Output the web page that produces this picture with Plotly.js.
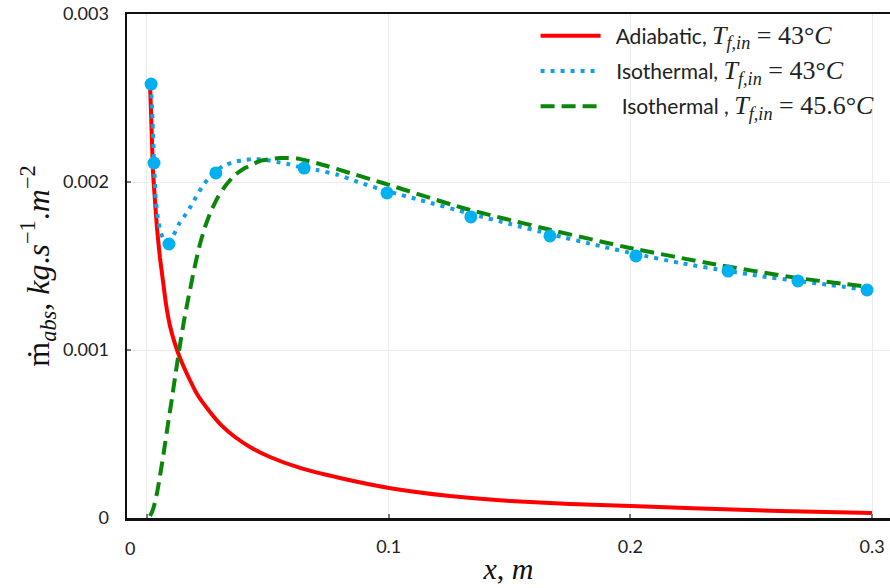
<!DOCTYPE html>
<html>
<head>
<meta charset="utf-8">
<script src="https://cdn.plot.ly/plotly-3.0.1.min.js"></script>
<style>html,body{margin:0;padding:0;background:#fff;}#chart{width:890px;height:588px;}</style>
</head>
<body>
<div id="chart"></div>
<script>
// Adiabatic, T_f,in = 43°C
const xAdiabatic = [0.00124,0.00165,0.00248,0.00331,0.00414,0.00538,0.00662,0.00786,0.00952,0.01158,0.01365,0.01655,0.02069,0.02607,0.03103,0.03641,0.04262,0.05089,0.0633,0.07985,0.10012,0.12536,0.15019,0.17501,0.20025,0.2288,0.2619,0.29996];
const yAdiabatic = [0.002583,0.002423,0.002065,0.001887,0.001726,0.001548,0.001411,0.001274,0.001143,0.001036,0.000952,0.000857,0.000738,0.000631,0.000548,0.000482,0.000423,0.000363,0.000298,0.000238,0.000179,0.000131,0.000101,0.0000833,0.0000714,0.0000565,0.0000417,0.0000298];

// Isothermal, T_f,in = 43°C (line)
const xIso43 = [0.00165,0.00248,0.0029,0.00372,0.00455,0.00579,0.00703,0.00869,0.01076,0.01324,0.01614,0.0182,0.02027,0.02276,0.02565,0.02855,0.03145,0.036,0.04013,0.04468,0.04923,0.05379,0.05834,0.06496,0.07034,0.07902,0.0873,0.0993,0.11295,0.13405,0.15019,0.16673,0.18742,0.20232,0.22052,0.24038,0.25362,0.26934,0.28258,0.29789];
const yIso43 = [0.002583,0.002304,0.002113,0.001887,0.00178,0.001696,0.001655,0.001649,0.001679,0.00175,0.00181,0.001857,0.001911,0.00197,0.002024,0.002065,0.002095,0.002119,0.002131,0.002137,0.002131,0.002119,0.002107,0.002083,0.002071,0.002042,0.002,0.001946,0.001893,0.00181,0.00175,0.00169,0.001619,0.001571,0.001518,0.00147,0.00144,0.001411,0.001387,0.001357];

// Isothermal, T_f,in = 43°C (points)
const xIso43Pts = [0.0017,0.0029,0.0091,0.0285,0.065,0.0993,0.134,0.1667,0.2023,0.2404,0.2693,0.2979];
const yIso43Pts = [0.002583,0.002113,0.001631,0.002054,0.002083,0.001935,0.001792,0.001679,0.00156,0.00147,0.001411,0.001357];

// Isothermal, T_f,in = 45.6°C
const xIso456 = [0.00124,0.00207,0.0029,0.00414,0.00538,0.00703,0.00869,0.01034,0.012,0.01365,0.01531,0.01696,0.01862,0.02027,0.02193,0.024,0.02648,0.02938,0.03269,0.03641,0.04055,0.04675,0.05503,0.06206,0.07158,0.08523,0.09764,0.13074,0.16549,0.19983,0.23418,0.26893,0.29913];
const yIso456 = [0.0000119,0.0000357,0.0000714,0.000149,0.00025,0.000399,0.00056,0.000714,0.000875,0.00103,0.001173,0.001298,0.001417,0.00153,0.001631,0.001732,0.001827,0.001911,0.001982,0.002042,0.002083,0.002125,0.002143,0.00214,0.002107,0.002048,0.001994,0.001845,0.00172,0.001607,0.001512,0.001429,0.001375];

const xTickVals = [0, 0.1, 0.2, 0.3];
const xTickText = ["", "0.1", "0.2", "0.3"];
const yTickVals = [0, 0.001, 0.002, 0.003];
const yTickText = ["0", "0.001", "0.002", "0.003"];

const M = 'font-family:Liberation Serif;font-size:26px';
const mathT = (v) => `<span style="${M}"><i>T</i><sub><i>f,in</i></sub> = ${v}°<i>C</i></span>`;
const NB = '\u00A0';

const traces = [
  {x: xAdiabatic, y: yAdiabatic, mode: 'lines', name: NB + NB + 'Adiabatic, ' + mathT('43'), legendgroup: 'a',
   line: {color: '#ff0000', width: 4, shape: 'spline', smoothing: 0.5}},
  {x: xIso43, y: yIso43, mode: 'lines', name: NB + NB + 'Isothermal, ' + mathT('43'), legendgroup: 'b',
   line: {color: '#129fe6', width: 4, dash: '4px,6px', shape: 'spline', smoothing: 0.6}},
  {x: xIso456, y: yIso456, mode: 'lines', name: NB + NB + NB + 'Isothermal , ' + mathT('45.6'), legendgroup: 'c',
   line: {color: '#0a870a', width: 4, dash: '14px,7px', shape: 'spline', smoothing: 0.5}},
  {x: xIso43Pts, y: yIso43Pts, mode: 'markers', showlegend: false,
   marker: {color: '#00b0f0', size: 13}}
];

const layout = {
  width: 890, height: 588,
  margin: {l: 127, r: 0, t: 14, b: 70},
  paper_bgcolor: '#fff', plot_bgcolor: '#fff',
  font: {family: 'Lato, sans-serif', size: 18, color: '#222'},
  showlegend: true,
  legend: {x: 0.5355, y: 0.997, xanchor: 'left', yanchor: 'top', bgcolor: 'rgba(0,0,0,0)',
    font: {family: 'Lato, sans-serif', size: 21, color: '#222'}, itemwidth: 60, tracegroupgap: 5},
  xaxis: {
    range: [-0.00827, 0.3074], tickvals: xTickVals, ticktext: xTickText,
    showgrid: true, gridcolor: '#ececec', gridwidth: 1, zeroline: false,
    showline: true, linecolor: '#111', linewidth: 2.5, mirror: true,
    ticks: 'inside', ticklen: 4, tickwidth: 2, tickcolor: '#777',
    tickfont: {family: 'Lato, sans-serif', size: 18, color: '#222'}, ticklabelstandoff: 11,
    title: {text: '<i>x</i>, <i>m</i>', font: {family: 'Liberation Serif, serif', size: 30, color: '#111'}, standoff: 2}
  },
  yaxis: {
    range: [0, 0.003], tickvals: yTickVals, ticktext: yTickText,
    showgrid: true, gridcolor: '#ececec', gridwidth: 1, zeroline: false,
    showline: true, linecolor: '#111', linewidth: 2.5,
    ticks: 'inside', ticklen: 4, tickwidth: 2, tickcolor: '#777',
    tickfont: {family: 'Lato, sans-serif', size: 18, color: '#222'}, ticklabelstandoff: 12,
    title: {text: 'ṁ<sub><i>abs</i></sub>, <i>kg</i>.<i>s</i><sup>−1</sup>.<i>m</i><sup>−2</sup>', font: {family: 'Liberation Serif, serif', size: 32, color: '#111'}, standoff: 4}
  },
  annotations: [
    {text: '0', xref: 'x', yref: 'paper', x: -0.007, y: 0, yanchor: 'top', yshift: -17, showarrow: false,
     font: {family: 'Lato, sans-serif', size: 18, color: '#222'}}
  ]
};

Plotly.newPlot('chart', traces, layout, {displayModeBar: false, staticPlot: true});
</script>
</body>
</html>
